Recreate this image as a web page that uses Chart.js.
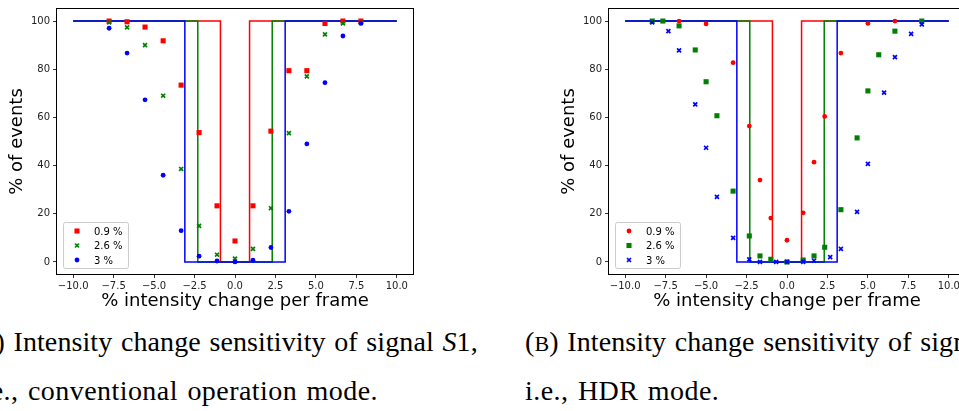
<!DOCTYPE html>
<html>
<head>
<meta charset="utf-8">
<script src="https://cdn.jsdelivr.net/npm/chart.js@4.4.0/dist/chart.umd.min.js"></script>
<style>
  html, body { margin: 0; padding: 0; background: #fff; }
  body { width: 959px; height: 411px; overflow: hidden; position: relative; }
  canvas { position: absolute; top: 0; }
  #chartA { left: 0; }
  #chartB { left: 552px; }
  .cap { position: absolute; font-family: "Liberation Serif", serif; font-size: 28px; line-height: 28px; white-space: nowrap; color: #000; }
  .l1 { top: 328px; word-spacing: 1.5px; letter-spacing: 0.1px; }
  .l2 { top: 377px; word-spacing: 2px; letter-spacing: 0.45px; }
  .sc { font-size: 22px; }
</style>
</head>
<body>
<canvas id="chartA" width="430" height="314"></canvas>
<canvas id="chartB" width="430" height="314"></canvas>
<div class="cap l1" style="left:-30px;">(<span class="sc">A</span>) Intensity change sensitivity of signal <i>S</i>1,</div>
<div class="cap l2" style="left:-25px;">i.e., conventional operation mode.</div>
<div class="cap l1" style="left:525px;">(<span class="sc">B</span>) Intensity change sensitivity of signal <i>S</i>2,</div>
<div class="cap l2" style="left:525px;">i.e., HDR mode.</div>
<script>
// tick labels
const xTicks = [-10, -7.5, -5, -2.5, 0, 2.5, 5, 7.5, 10];
const yTicks = [0, 20, 40, 60, 80, 100];
const labels = ['0.9 %', '2.6 %', '3 %'];

// (A) conventional mode
const xA = [-7.78, -6.67, -5.56, -4.44, -3.33, -2.22, -1.11, 0, 1.11, 2.22, 3.33, 4.44, 5.56, 6.67, 7.78];
const redA = [100, 99.7, 97.5, 91.8, 73.4, 53.7, 23.3, 8.7, 23.3, 54.3, 79.4, 79.4, 99, 100, 100];
const greenA = [99.4, 97.4, 90, 69, 38.6, 15, 3, 1.4, 5.4, 22.3, 53.5, 77, 94.5, 99, 99.3];
const blueA = [97, 86.7, 67.3, 36, 13, 2.4, 0.4, 0, 0.7, 6, 21, 49, 74.4, 93.8, 99];
const thrA = [0.9, 2.3, 3.1];

// (B) HDR mode
const xRedB = [-6.67, -5, -3.33, -2.33, -1.67, -1, 0, 1, 1.67, 2.33, 3.33, 5, 6.67];
const redB = [100, 98.8, 82.7, 56.4, 34, 18.2, 9, 20.4, 41.4, 60.4, 86.7, 99, 100];
const xGreenB = [-8.33, -7.67, -6.67, -5.67, -5, -4.33, -3.33, -2.33, -1.67, -1, 0, 1, 1.67, 2.33, 3.33, 4.33, 5, 5.67, 6.67, 8.33];
const greenB = [100, 100, 98, 88, 74.8, 60.7, 29.4, 10.8, 2.5, 1.1, 0, 0.8, 2.5, 6.1, 21.7, 51.5, 71, 86, 95.8, 100];
const xBlueB = [-8.33, -7.33, -6.67, -5.67, -5, -4.33, -3.33, -2.33, -1.67, -0.67, 0, 1, 1.67, 2.67, 3.33, 4.33, 5, 6, 6.67, 7.67, 8.33];
const blueB = [99.4, 95.8, 87.8, 65.4, 47.4, 27, 10, 1.1, 0, 0, 0, 0, 0.5, 2, 5.4, 20.8, 40.7, 70.3, 85, 94.7, 98.6];
const thrB = [0.9, 2.3, 3.1];

const colors = ['#ff0000', '#008000', '#0000ff'];
const markers = {
    rect: {pointStyle: 'rect', pointRadius: 3.6, pointBorderWidth: 0},
    circle: {pointStyle: 'circle', pointRadius: 2.4, pointBorderWidth: 0},
    cross: {pointStyle: 'crossRot', pointRadius: 2.8, pointBorderWidth: 1.7}
};

function pts(xs, ys) {
    return xs.map((x, i) => ({x: x, y: ys[i]}));
}
function stepLine(t) {
    return [{x: -10, y: 100}, {x: -t, y: 100}, {x: -t, y: 0}, {x: t, y: 0}, {x: t, y: 100}, {x: 10, y: 100}];
}
function fmtX(v) {
    return v.toFixed(1).replace('-', '\u2212');
}

// frame around the axes, like matplotlib
const frame = {
    id: 'frame',
    afterDraw(chart) {
        const a = chart.chartArea, ctx = chart.ctx;
        ctx.save();
        ctx.strokeStyle = '#000';
        ctx.lineWidth = 1;
        ctx.strokeRect(Math.round(a.left) - 0.5, Math.round(a.top) - 0.5, Math.round(a.right - a.left) + 1, Math.round(a.bottom - a.top) + 1);
        ctx.restore();
    }
};

// legend box in lower left of the axes
const insetLegend = {
    id: 'insetLegend',
    afterDatasetsDraw(chart) {
        const a = chart.chartArea, ctx = chart.ctx;
        const items = chart.data.datasets.filter(d => d.label);
        const w = 65, h = 46;
        const x0 = a.left + 6, y0 = a.bottom - 6 - h;
        ctx.save();
        ctx.fillStyle = 'rgba(255,255,255,0.8)';
        ctx.strokeStyle = '#cccccc';
        ctx.lineWidth = 1;
        ctx.beginPath();
        ctx.roundRect(x0 + 0.5, y0 + 0.5, w, h, 2);
        ctx.fill();
        ctx.stroke();
        items.forEach((d, i) => {
            const cy = y0 + 9 + i * 14.5;
            ctx.fillStyle = d.backgroundColor;
            ctx.strokeStyle = d.borderColor;
            ctx.lineWidth = d.pointBorderWidth;
            Chart.helpers.drawPoint(ctx, {pointStyle: d.pointStyle, radius: d.pointRadius, borderWidth: d.pointBorderWidth, rotation: 0}, x0 + 14, cy);
            ctx.fillStyle = '#000';
            ctx.font = '10px "DejaVu Sans"';
            ctx.textBaseline = 'middle';
            ctx.textAlign = 'left';
            ctx.fillText(d.label, x0 + 31, cy + 1);
        });
        ctx.restore();
    }
};

function makeChart(id, series, thr) {
    const datasets = [];
    series.forEach((s, i) => {
        datasets.push(Object.assign({
            label: labels[i],
            data: pts(s.x, s.y),
            backgroundColor: colors[i],
            borderColor: colors[i],
            order: 2 - i
        }, markers[s.marker]));
    });
    thr.forEach((t, i) => {
        datasets.push({
            data: stepLine(t),
            showLine: true,
            borderColor: colors[i],
            borderWidth: 1.5,
            pointRadius: 0,
            fill: false,
            order: 5 - i
        });
    });
    return new Chart(document.getElementById(id), {
        type: 'scatter',
        data: {datasets: datasets},
        plugins: [frame, insetLegend],
        options: {
            responsive: false,
            animation: false,
            devicePixelRatio: 1,
            layout: {padding: {left: 0, right: 17, top: 9, bottom: 0}},
            plugins: {legend: {display: false}, tooltip: {enabled: false}},
            scales: {
                x: {
                    min: -11, max: 11,
                    afterBuildTicks: s => { s.ticks = xTicks.map(v => ({value: v})); },
                    afterFit: s => { s.height = 40; },
                    ticks: {callback: v => fmtX(v), color: '#222', font: {family: 'DejaVu Sans', size: 10}, padding: 2, maxRotation: 0, autoSkip: false},
                    grid: {display: true, drawOnChartArea: false, drawTicks: true, tickLength: 4, color: '#000', lineWidth: 0.8},
                    border: {display: false},
                    title: {display: true, text: '% intensity change per frame', color: '#000', font: {family: 'DejaVu Sans', size: 18}, padding: {top: 0, bottom: 2}}
                },
                y: {
                    min: -5, max: 105,
                    afterBuildTicks: s => { s.ticks = yTicks.map(v => ({value: v})); },
                    afterFit: s => { s.width = 57; },
                    ticks: {callback: v => String(v), color: '#222', font: {family: 'DejaVu Sans', size: 10}, padding: 3, autoSkip: false},
                    grid: {display: true, drawOnChartArea: false, drawTicks: true, tickLength: 4, color: '#000', lineWidth: 0.8},
                    border: {display: false},
                    title: {display: true, text: '% of events', color: '#000', font: {family: 'DejaVu Sans', size: 18}, padding: {top: 7, bottom: 0}}
                }
            }
        }
    });
}

makeChart('chartA', [
    {x: xA, y: redA, marker: 'rect'},
    {x: xA, y: greenA, marker: 'cross'},
    {x: xA, y: blueA, marker: 'circle'}
], thrA);

makeChart('chartB', [
    {x: xRedB, y: redB, marker: 'circle'},
    {x: xGreenB, y: greenB, marker: 'rect'},
    {x: xBlueB, y: blueB, marker: 'cross'}
], thrB);
</script>
</body>
</html>
